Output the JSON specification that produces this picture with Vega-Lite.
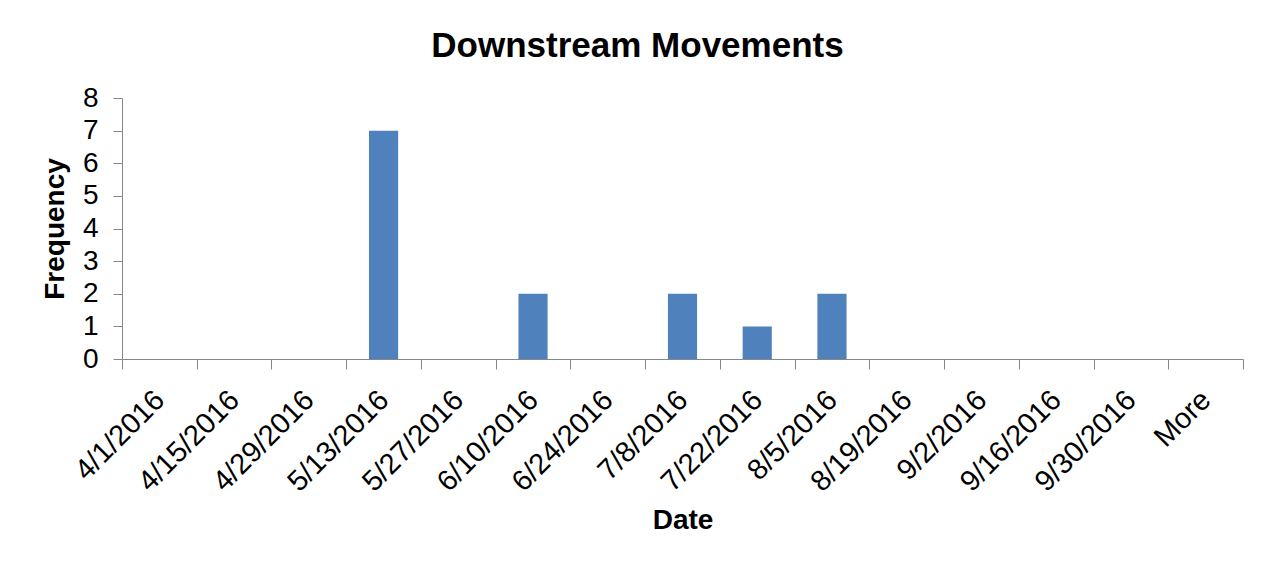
{
  "$schema": "https://vega.github.io/schema/vega-lite/v6.json",
  "width": 1121,
  "height": 261,
  "autosize": "none",
  "padding": {"left": 122, "top": 98, "right": 27, "bottom": 206},
  "background": "white",
  "title": {
    "text": "Downstream Movements",
    "fontSize": 35,
    "font": "Liberation Sans",
    "fontWeight": "bold",
    "color": "black",
    "anchor": "middle",
    "dx": -45,
    "baseline": "alphabetic",
    "offset": -8
  },
  "data": {
    "values": [
      {"bin": "4/1/2016", "frequency": 0},
      {"bin": "4/15/2016", "frequency": 0},
      {"bin": "4/29/2016", "frequency": 0},
      {"bin": "5/13/2016", "frequency": 7},
      {"bin": "5/27/2016", "frequency": 0},
      {"bin": "6/10/2016", "frequency": 2},
      {"bin": "6/24/2016", "frequency": 0},
      {"bin": "7/8/2016", "frequency": 2},
      {"bin": "7/22/2016", "frequency": 1},
      {"bin": "8/5/2016", "frequency": 2},
      {"bin": "8/19/2016", "frequency": 0},
      {"bin": "9/2/2016", "frequency": 0},
      {"bin": "9/16/2016", "frequency": 0},
      {"bin": "9/30/2016", "frequency": 0},
      {"bin": "More", "frequency": 0}
    ]
  },
  "mark": {"type": "bar", "color": "#4F81BD", "width": {"band": 0.39}},
  "encoding": {
    "x": {
      "field": "bin",
      "type": "ordinal",
      "sort": null,
      "scale": {"paddingInner": 0, "paddingOuter": 0},
      "axis": {
        "title": "Date",
        "labelAngle": -45,
        "labelAlign": "right",
        "labelBaseline": "middle",
        "labelFontSize": 29,
        "labelFont": "Liberation Sans",
        "labelColor": "black",
        "labelPadding": 26,
        "labelOffset": 0,
        "labelOverlap": false,
        "tickSize": 10,
        "tickColor": "#868686",
        "domainColor": "#868686",
        "tickBand": "extent",
        "grid": false,
        "titleFontSize": 28,
        "titleFont": "Liberation Sans",
        "titleFontWeight": "bold",
        "titleColor": "black",
        "titleY": 169,
        "titleBaseline": "alphabetic"
      }
    },
    "y": {
      "field": "frequency",
      "type": "quantitative",
      "scale": {"domain": [0, 8], "nice": false},
      "axis": {
        "title": "Frequency",
        "values": [0, 1, 2, 3, 4, 5, 6, 7, 8],
        "tickSize": 9,
        "labelPadding": 15,
        "labelFontSize": 28,
        "labelFont": "Liberation Sans",
        "labelColor": "black",
        "tickColor": "#868686",
        "domainColor": "#868686",
        "grid": false,
        "titleFontSize": 28,
        "titleFont": "Liberation Sans",
        "titleFontWeight": "bold",
        "titleColor": "black",
        "titleX": -59,
        "titleBaseline": "alphabetic"
      }
    }
  },
  "config": {"view": {"stroke": null}}
}
